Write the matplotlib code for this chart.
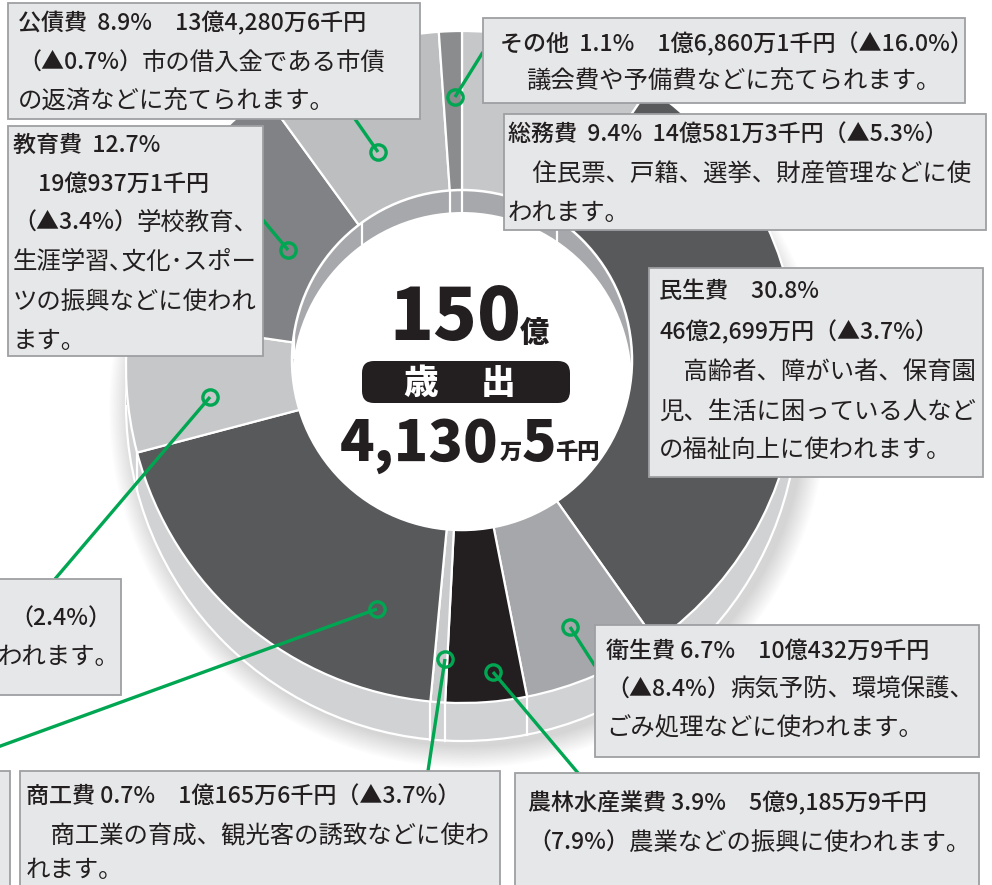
import numpy as np
import matplotlib
matplotlib.use("Agg")
import matplotlib.pyplot as plt
from matplotlib.patches import Wedge, Circle, FancyBboxPatch, Rectangle

plt.rcParams['font.family'] = ['Noto Sans CJK JP', 'DejaVu Sans']

# data: clockwise from 12 o'clock
categories = ["総務費", "民生費", "衛生費", "農林水産業費", "商工費",
              "土木費", "消防費", "教育費", "公債費", "その他"]
shares = [9.4, 30.8, 6.7, 3.9, 0.7, 19.4, 6.4, 12.7, 8.9, 1.1]
face_colors = ["#c6c7c9", "#58595b", "#a6a7aa", "#231f20", "#c9cacc",
               "#58595b", "#c6c7c9", "#808285", "#bcbec0", "#8a8c8e"]

total_oku = "150"
total_rest = "4,130"

# label boxes: (x0, y0, x1, y1) in pixels, then lines (x, y, [(text, style), ...])
boxes = [
    ((8, 3, 420, 119), [
        (18, 23, [("公債費  8.9%　13億4,280万6千円", "h")]),
        (18, 63, [("（▲0.7%）", "h"), ("市の借入金である市債", "d")]),
        (18, 102, [("の返済などに充てられます。", "d")])]),
    ((8, 126, 263, 356), [
        (13, 145, [("教育費  12.7%", "h")]),
        (38, 184, [("19億937万1千円", "h")]),
        (13, 223, [("（▲3.4%）", "h"), ("学校教育、", "d")]),
        (13, 262, [("生涯学習､文化･スポー", "d")]),
        (13, 302, [("ツの振興などに使われ", "d")]),
        (13, 341, [("ます。", "d")])]),
    ((483, 18, 965, 103), [
        (500, 44, [("その他  1.1%　1億6,860万1千円（▲16.0%）", "h")]),
        (526, 82, [("議会費や予備費などに充てられます。", "d")])]),
    ((504, 114, 986, 230), [
        (508, 135, [("総務費  9.4%  14億581万3千円（▲5.3%）", "h")]),
        (508, 175, [("　住民票、戸籍、選挙、財産管理などに使", "d")]),
        (508, 213, [("われます。", "d")])]),
    ((649, 268, 983, 477), [
        (659, 292, [("民生費　30.8%", "h")]),
        (659, 332, [("46億2,699万円（▲3.7%）", "h")]),
        (659, 372, [("　高齢者、障がい者、保育園", "d")]),
        (659, 412, [("児、生活に困っている人など", "d")]),
        (659, 450, [("の福祉向上に使われます。", "d")])]),
    ((-5, 579, 121, 695), [
        (10, 619, [("（2.4%）", "h")]),
        (-2, 657, [("われます。", "d")])]),
    ((595, 625, 979, 757), [
        (606, 651, [("衛生費 6.7%　10億432万9千円", "h")]),
        (606, 690, [("（▲8.4%）", "h"), ("病気予防、環境保護、", "d")]),
        (606, 728, [("ごみ処理などに使われます。", "d")])]),
    ((515, 773, 979, 895), [
        (528, 803, [("農林水産業費 3.9%　5億9,185万9千円", "h")]),
        (528, 843, [("（7.9%）", "h"), ("農業などの振興に使われます。", "d")])]),
    ((20, 771, 500, 895), [
        (26, 797, [("商工費 0.7%　1億165万6千円（▲3.7%）", "h")]),
        (26, 836, [("　商工業の育成、観光客の誘致などに使わ", "d")]),
        (26, 870, [("れます。", "d")])]),
    ((-5, 771, 10, 895), []),
]

# leader lines: marker on slice -> box edge
leaders = [
    ((455, 97), (483, 52)),
    ((378, 152), (355, 119)),
    ((288, 250), (263, 220)),
    ((210, 397), (55, 579)),
    ((377, 609), (-5, 748)),
    ((445, 659), (428, 771)),
    ((493, 672), (578, 773)),
    ((570, 627), (595, 666)),
]

W, H = 992, 885
fig = plt.figure(figsize=(W / 100, H / 100), dpi=100)
ax = fig.add_axes([0, 0, 1, 1])
ax.set_xlim(0, W)
ax.set_ylim(H, 0)
ax.axis("off")

cx, cy, R = 462, 367, 336      # top face
rim = 38                        # outer side depth
icx, icy, r_in = 462, 360, 170  # hole
wall = 22                       # inner wall depth
GREEN = "#00a651"
TXT = "#231f20"
STYLES = {"h": dict(fontsize=16.6, fontweight="medium"),
          "d": dict(fontsize=17.6, fontweight="normal")}

# soft shadow of the disc
for k in range(14):
    ax.add_patch(Circle((cx + 6, cy + rim + 4), R + 2 + k * 1.6, color="black",
                        alpha=0.012, lw=0, zorder=0))

# outer side
ax.add_patch(Circle((cx, cy + rim), R, facecolor="#d1d2d4", edgecolor="white",
                    lw=1.6, zorder=1))
ax.add_patch(Rectangle((cx - R, cy), 2 * R, rim, facecolor="#d1d2d4", lw=0, zorder=1))

bounds = 90 - 3.6 * np.concatenate([[0], np.cumsum(shares)])
for a in bounds[:-1]:
    t = np.radians(a)
    x, y = cx + R * np.cos(t), cy - R * np.sin(t)
    ax.plot([x, x], [y, y + rim], color="white", lw=1.6, zorder=2)

# top face slices (angles flipped because y axis points down)
for i, col in enumerate(face_colors):
    ax.add_patch(Wedge((cx, cy), R, -bounds[i], -bounds[i + 1], facecolor=col,
                       edgecolor="white", lw=1.6, zorder=3))

# inner wall and hole
inner = Circle((icx, icy), r_in, facecolor="#a7a8ab", edgecolor="white", lw=1.8, zorder=4)
ax.add_patch(inner)
for a in bounds[:-1]:
    t = np.radians(a)
    x, y = icx + r_in * np.cos(t), icy - r_in * np.sin(t)
    ln, = ax.plot([x, x], [y, y + wall], color="white", lw=1.6, zorder=5)
    ln.set_clip_path(inner)
hole = Circle((icx, icy + wall), r_in, facecolor="white", lw=0, zorder=6)
ax.add_patch(hole)
hole.set_clip_path(inner)

# centre text
ax.text(455, 340, total_oku, fontsize=52, fontweight="heavy", color=TXT,
        ha="center", va="baseline", zorder=10)
ax.text(534, 342, "億", fontsize=21, fontweight="heavy", color=TXT,
        ha="center", va="baseline", zorder=10)
ax.add_patch(FancyBboxPatch((362, 361), 208, 42, boxstyle="round,pad=0,rounding_size=12",
                            facecolor=TXT, lw=0, zorder=9))
ax.text(421, 394, "歳", fontsize=25, fontweight="heavy", color="white",
        ha="center", va="baseline", zorder=10)
ax.text(498, 394, "出", fontsize=25, fontweight="heavy", color="white",
        ha="center", va="baseline", zorder=10)
ax.text(340, 461, total_rest, fontsize=41, fontweight="heavy", color=TXT,
        ha="left", va="baseline", zorder=10)
ax.text(511, 459, "万", fontsize=16, fontweight="heavy", color=TXT,
        ha="center", va="baseline", zorder=10)
ax.text(539, 461, "5", fontsize=41, fontweight="heavy", color=TXT,
        ha="center", va="baseline", zorder=10)
ax.text(577, 459, "千円", fontsize=16, fontweight="heavy", color=TXT,
        ha="center", va="baseline", zorder=10)

# leaders
for (mx, my), (ex, ey) in leaders:
    ax.plot([mx, ex], [my, ey], color=GREEN, lw=2.4, zorder=7, solid_capstyle="butt")
    ax.plot([mx], [my], marker="o", ms=11, mfc="none", mec=GREEN, mew=2.4, zorder=8)

# boxes; mixed-style lines are laid out piece by piece
renderer = fig.canvas.get_renderer()
for (x0, y0, x1, y1), lines in boxes:
    ax.add_patch(Rectangle((x0, y0), x1 - x0, y1 - y0, facecolor="#e6e7e8",
                           edgecolor="#9d9fa2", lw=1.3, zorder=11))
    for x, y, parts in lines:
        for s, style in parts:
            t = ax.text(x, y, s, color=TXT, ha="left", va="center", zorder=12,
                        **STYLES[style])
            x = t.get_window_extent(renderer).x1

fig.savefig("out.png", dpi=100)
